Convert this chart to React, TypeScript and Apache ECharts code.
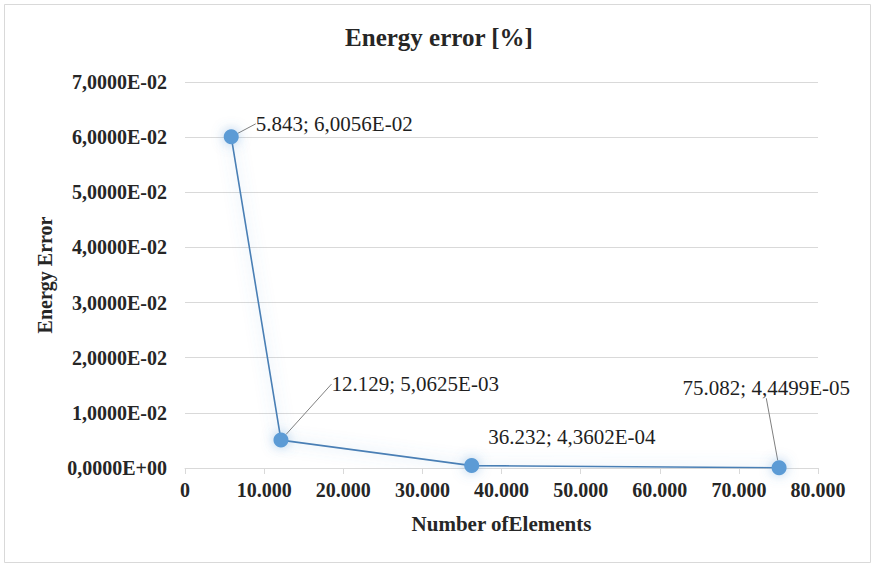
import React, { useEffect, useRef } from "react";
import * as echarts from "echarts";

// Mesh convergence study: number of elements vs. relative energy error
const elementCounts = [5843, 12129, 36232, 75082];
const energyErrors = [6.0056e-2, 5.0625e-3, 4.3602e-4, 4.4499e-5];

const titleText = "Energy error [%]";
const xAxisName = "Number ofElements";
const yAxisName = "Energy Error";

// Label offsets (dx, dy) from each marker, in pixels
const labelOffsets: [number, number][] = [
  [12, -13],
  [38, -56],
  [4, -29],
  [-109, -80],
];
// Which labels get a leader line back to their marker
const leaderLines = [true, true, false, true];

const SERIF = "'Liberation Serif', 'DejaVu Serif', serif";

function sci(v: number): string {
  const [m, e] = v.toExponential(4).split("e");
  const exp = parseInt(e, 10);
  const sign = exp < 0 ? "-" : "+";
  const abs = Math.abs(exp).toString().padStart(2, "0");
  return `${m.replace(".", ",")}E${sign}${abs}`;
}

function thousands(v: number): string {
  return Math.round(v)
    .toString()
    .replace(/\B(?=(\d{3})+(?!\d))/g, ".");
}

export default function App() {
  const ref = useRef<HTMLDivElement>(null);

  useEffect(() => {
    if (!ref.current) return;
    const chart = echarts.init(ref.current, undefined, { renderer: "svg" });

    chart.setOption({
      animation: false,
      backgroundColor: "#ffffff",
      title: {
        text: titleText,
        left: 434,
        top: 20,
        textAlign: "center",
        textStyle: {
          fontFamily: SERIF,
          fontWeight: "bold",
          fontSize: 25,
          color: "#262626",
        },
      },
      graphic: [
        {
          type: "rect",
          shape: { x: 4.5, y: 4.5, width: 866, height: 558 },
          style: { fill: "none", stroke: "#d9d9d9", lineWidth: 1 },
          silent: true,
        },
      ],
      grid: { left: 185, right: 55, top: 82, bottom: 97 },
      xAxis: {
        type: "value",
        min: 0,
        max: 80000,
        interval: 10000,
        name: xAxisName,
        nameLocation: "middle",
        nameGap: 45,
        nameTextStyle: {
          fontFamily: SERIF,
          fontWeight: "bold",
          fontSize: 21,
          color: "#262626",
        },
        axisLine: { show: true, lineStyle: { color: "#d9d9d9", width: 1 } },
        axisTick: { show: true, length: 6, lineStyle: { color: "#d9d9d9" } },
        splitLine: { show: false },
        axisLabel: {
          fontFamily: SERIF,
          fontWeight: "bold",
          fontSize: 20,
          color: "#262626",
          margin: 12,
          formatter: (v: number) => thousands(v),
        },
      },
      yAxis: {
        type: "value",
        min: 0,
        max: 0.07,
        interval: 0.01,
        name: yAxisName,
        nameLocation: "middle",
        nameGap: 130,
        nameRotate: 90,
        nameTextStyle: {
          fontFamily: SERIF,
          fontWeight: "bold",
          fontSize: 20,
          color: "#262626",
        },
        axisLine: { show: false },
        axisTick: { show: false },
        splitLine: { show: true, lineStyle: { color: "#d9d9d9", width: 1 } },
        axisLabel: {
          fontFamily: SERIF,
          fontWeight: "bold",
          fontSize: 20,
          color: "#262626",
          margin: 18,
          formatter: (v: number) => sci(v),
        },
      },
      series: [
        {
          type: "line",
          data: elementCounts.map((x, i) => ({
            value: [x, energyErrors[i]],
            labelLine: { show: leaderLines[i] },
          })),
          symbol: "circle",
          symbolSize: 15,
          itemStyle: {
            color: "#5b9bd5",
            shadowBlur: 12,
            shadowColor: "rgba(91,155,213,0.5)",
          },
          lineStyle: {
            color: "#4a7fb5",
            width: 1.6,
            shadowBlur: 14,
            shadowColor: "rgba(91,155,213,0.5)",
          },
          label: {
            show: true,
            position: "right",
            fontFamily: SERIF,
            fontSize: 21,
            color: "#1f1f1f",
            formatter: (p: any) => `${thousands(p.value[0])}; ${sci(p.value[1])}`,
          },
          labelLine: {
            show: true,
            lineStyle: { color: "#7f7f7f", width: 1 },
          },
          labelLayout: (p: any) => {
            const o = labelOffsets[p.dataIndex];
            return { dx: o[0], dy: o[1] };
          },
        },
      ],
    });

    return () => chart.dispose();
  }, []);

  return (
    <div
      ref={ref}
      style={{ position: "absolute", left: 0, top: 0, width: 873, height: 565 }}
    />
  );
}
